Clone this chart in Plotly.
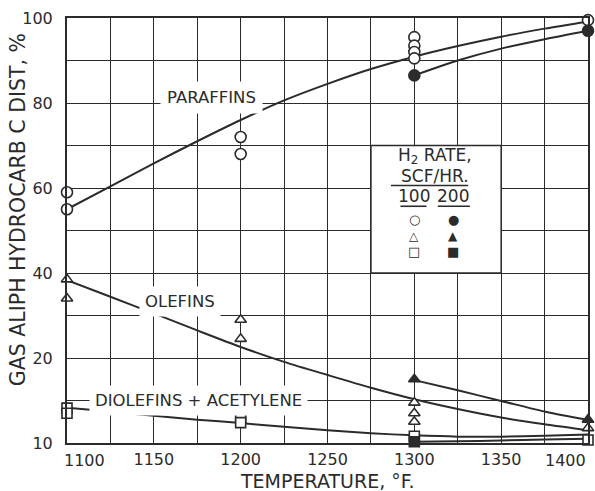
import plotly.graph_objects as go

# ---------------- data ----------------
# measured points, H2 rate 100 SCF/HR (open symbols)
par100_t = [1100, 1100, 1200, 1200, 1300, 1300, 1300, 1300, 1400]
par100_v = [59, 55, 72, 68, 95.5, 93.5, 92, 90.5, 99.5]
ole100_t = [1100, 1100, 1200, 1200, 1300, 1300, 1300, 1400]
ole100_v = [38.5, 34, 29, 24.5, 9.5, 7, 5, 3.5]
dio100_t = [1100, 1100, 1200, 1200, 1300, 1400]
dio100_v = [8.2, 7.0, 6.0, 4.8, 1.6, 0.7]

# measured points, H2 rate 200 SCF/HR (filled symbols)
par200_t = [1300, 1400]
par200_v = [86.5, 97]
ole200_t = [1300, 1400]
ole200_v = [15, 5.5]
dio200_t = [1300]
dio200_v = [0.3]

# smoothed curves
curve_t = [1100, 1125, 1150, 1175, 1200, 1225, 1250, 1275, 1300, 1325, 1350, 1375, 1400]
par_curve100 = [55, 60.4, 65.8, 71.0, 76.0, 80.6, 84.5, 88.0, 90.9, 93.4, 95.6, 97.5, 99.2]
ole_curve100 = [38.3, 34.4, 30.5, 26.5, 22.6, 19.1, 16.0, 13.0, 10.3, 8.0, 6.0, 4.4, 3.0]
dio_curve100 = [8.3, 7.4, 6.4, 5.5, 4.7, 3.8, 3.0, 2.3, 1.8, 1.5, 1.5, 1.7, 2.0]
curve_t200 = [1300, 1325, 1350, 1375, 1400]
par_curve200 = [86.5, 90, 92.8, 95.0, 97]
ole_curve200 = [14.8, 12.4, 9.9, 7.4, 5.4]
dio_curve200 = [0.3, 0.4, 0.6, 0.8, 1.0]

x_ticks = [1100, 1125, 1150, 1175, 1200, 1225, 1250, 1275, 1300, 1325, 1350, 1375, 1400]
x_labels = ["", "", "1150", "", "1200", "", "1250", "", "1300", "", "1350", "", ""]
y_ticks = [0, 10, 20, 30, 40, 50, 60, 70, 80, 90, 100]
y_labels = ["10", "", "20", "", "40", "", "60", "", "80", "", "100"]

INK = "#2b2b2b"
FONT = "DejaVu Sans"

fig = go.Figure()

def curve(x, y):
    fig.add_trace(go.Scatter(x=x, y=y, mode="lines",
                             line=dict(color=INK, width=2, shape="spline", smoothing=0.8),
                             hoverinfo="skip", showlegend=False, cliponaxis=False))

for x, y in [(curve_t, par_curve100), (curve_t, ole_curve100), (curve_t, dio_curve100),
             (curve_t200, par_curve200), (curve_t200, ole_curve200), (curve_t200, dio_curve200)]:
    curve(x, y)

def pts(x, y, symbol, fill, size):
    fig.add_trace(go.Scatter(x=x, y=y, mode="markers", showlegend=False, cliponaxis=False,
                             marker=dict(symbol=symbol, size=size, color=fill,
                                         line=dict(color=INK, width=1.6))))

pts(par100_t, par100_v, "circle", "white", 11)
pts(ole100_t, ole100_v, "triangle-up", "white", 10)
pts(dio100_t, dio100_v, "square", "white", 10)
pts(par200_t, par200_v, "circle", INK, 11)
pts(ole200_t, ole200_v, "triangle-up", INK, 10)
pts(dio200_t, dio200_v, "square", INK, 10)

# white key box (covers the grid inside it)
fig.add_shape(type="rect", x0=1275, x1=1350, y0=40, y1=70, xref="x", yref="y",
              fillcolor="white", line=dict(color=INK, width=1.5), layer="between")

ann = []
def txt(x, y, s, size=16, bg=None, xshift=0, yshift=0, xref="x", yref="y", angle=0, pad=1, h=None):
    d = dict(x=x, y=y, xref=xref, yref=yref, text=s, showarrow=False, textangle=angle,
             xanchor="center", yanchor="middle",
             font=dict(family=FONT, size=size, color=INK), xshift=xshift, yshift=yshift, borderpad=pad)
    if bg:
        d["bgcolor"] = bg
    if h:
        d["height"] = h
    ann.append(d)

txt(1183, 81.2, "PARAFFINS", size=16.5, bg="white", pad=6)
txt(1165, 33.2, "OLEFINS", size=16.5, bg="white", pad=5)
txt(1176, 10.1, "DIOLEFINS + ACETYLENE", size=16.5, bg="white", pad=5)

# key text
txt(1312, 67.5, "H<sub>2</sub> RATE,", size=17, h=18)
txt(1312, 62.8, "SCF/HR.", size=17, h=16)
txt(1300, 58.1, "100", size=17, h=16)
txt(1322.5, 58.1, "200", size=17, h=16)
txt(1300, 52.7, "○", size=13, pad=0)
txt(1322.5, 52.7, "●", size=13, pad=0)
txt(1300, 48.7, "△", size=12, pad=0)
txt(1322.5, 48.7, "▲", size=12, pad=0)
txt(1300, 45.0, "□", size=13, pad=0)
txt(1322.5, 45.0, "■", size=13, pad=0)

# end tick labels of x axis, pulled inward as in the reference
txt(1100, 0, "1100", xref="x", yref="paper", xshift=17, yshift=-17)
txt(1400, 0, "1400", xref="x", yref="paper", xshift=-23, yshift=-17)

# axis titles
txt(-0.094, 0.548, "GAS ALIPH HYDROCARB C DIST, %", size=20.5, xref="paper", yref="paper", angle=-90)
txt(0.5, 0, "TEMPERATURE, °F.", size=19, xref="paper", yref="paper", yshift=-38)

# underlines in the key
for x0, x1, y in [(1286.5, 1331, 60.6), (1292, 1307, 55.7), (1313.5, 1332, 55.7)]:
    fig.add_shape(type="line", x0=x0, x1=x1, y0=y, y1=y, xref="x", yref="y",
                  line=dict(color=INK, width=1.6), layer="above")

fig.update_layout(
    width=595, height=491,
    margin=dict(l=67, r=5, t=18, b=48),
    paper_bgcolor="white", plot_bgcolor="white",
    annotations=ann,
    font=dict(family=FONT, color=INK),
    xaxis=dict(range=[1100, 1400], tickvals=x_ticks, ticktext=x_labels,
               showgrid=True, gridcolor=INK, gridwidth=1.4, zeroline=False,
               showline=True, linecolor=INK, linewidth=2, mirror=True,
               ticks="", tickfont=dict(size=16, family=FONT, color=INK), ticklabelstandoff=1),
    yaxis=dict(range=[0, 100], tickvals=y_ticks, ticktext=y_labels,
               showgrid=True, gridcolor=INK, gridwidth=1.4, zeroline=False,
               showline=True, linecolor=INK, linewidth=2, mirror=True,
               ticks="", tickfont=dict(size=16, family=FONT, color=INK), ticklabelstandoff=9),
)

fig.write_html("out.html")
